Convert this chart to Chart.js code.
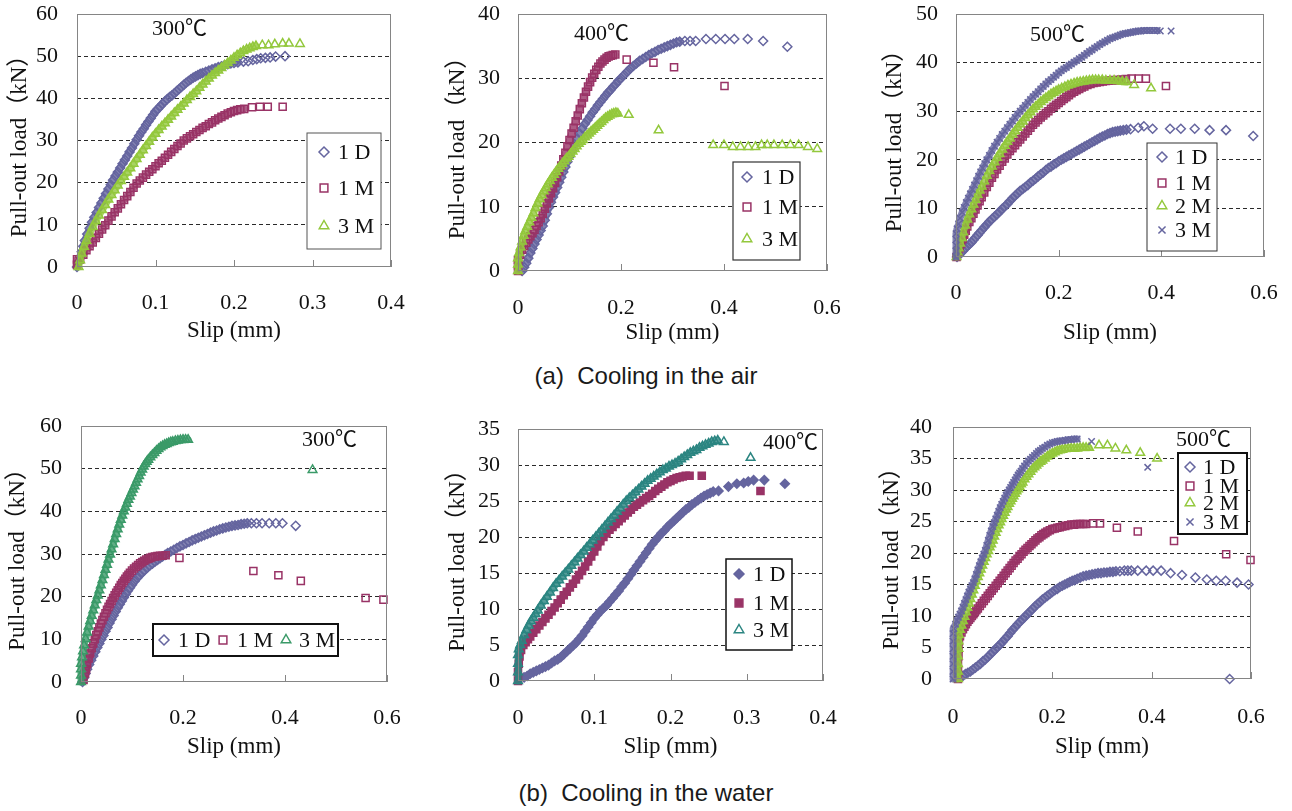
<!DOCTYPE html>
<html>
<head>
<meta charset="utf-8">
<script src="https://cdn.jsdelivr.net/npm/chart.js@4.4.0/dist/chart.umd.min.js"></script>
<style>
  body { margin: 0; background: #fff; width: 1292px; height: 811px; position: relative; overflow: hidden; }
  canvas { position: absolute; }
  .caption { position: absolute; left: 0; width: 1292px; text-align: center; white-space: pre;
    font: 24px 'Liberation Sans', Arial, sans-serif; line-height: 28px; color: #1a1a1a; }
</style>
</head>
<body>
<canvas id="a300" width="430" height="350" style="left:0;top:0"></canvas>
<canvas id="a400" width="430" height="350" style="left:430px;top:0"></canvas>
<canvas id="a500" width="432" height="350" style="left:860px;top:0"></canvas>
<canvas id="b300" width="430" height="365" style="left:0;top:405px"></canvas>
<canvas id="b400" width="430" height="365" style="left:430px;top:405px"></canvas>
<canvas id="b500" width="432" height="365" style="left:860px;top:405px"></canvas>
<div class="caption" style="top:362px">(a)  Cooling in the air</div>
<div class="caption" style="top:779px">(b)  Cooling in the water</div>
<script>
// data: [slip (mm), pull-out load (kN)]

// (a) cooling in the air, 300
const air300_1D = [[0,0],[0.002,1.2],[0.004,2.4],[0.006,3.6],[0.008,4.9],[0.010,6.3],[0.013,7.8],[0.016,9.2],[0.019,10.6],[0.022,11.8],[0.025,12.9],[0.028,14.1],[0.031,15.2],[0.034,16.3],[0.037,17.4],[0.040,18.5],[0.043,19.5],[0.046,20.6],[0.049,21.6],[0.052,22.5],[0.055,23.5],[0.058,24.5],[0.061,25.4],[0.064,26.3],[0.067,27.3],[0.070,28.2],[0.073,29.2],[0.076,30.2],[0.079,31.1],[0.082,32.0],[0.085,32.8],[0.088,33.7],[0.091,34.5],[0.094,35.3],[0.097,36.1],[0.100,36.9],[0.103,37.5],[0.106,38.1],[0.109,38.7],[0.112,39.3],[0.115,39.8],[0.118,40.3],[0.121,40.7],[0.124,41.2],[0.127,41.7],[0.130,42.2],[0.133,42.7],[0.136,43.2],[0.139,43.7],[0.142,44.1],[0.145,44.5],[0.148,44.9],[0.151,45.2],[0.154,45.5],[0.157,45.8],[0.160,46.0],[0.164,46.3],[0.168,46.6],[0.172,46.9],[0.176,47.1],[0.180,47.4],[0.184,47.6],[0.188,47.9],[0.192,48.1],[0.196,48.3],[0.200,48.4],[0.205,48.5],[0.212,48.7],[0.218,48.8],[0.224,49.1],[0.229,49.3],[0.234,49.5],[0.240,49.6],[0.246,49.7],[0.253,49.9],[0.265,50.0]]
const air300_1M = [[0,0.5],[0,1.8],[0.004,1.8],[0.008,2.9],[0.012,4.0],[0.016,4.9],[0.020,5.8],[0.024,6.9],[0.028,7.9],[0.032,8.9],[0.036,9.9],[0.040,11.0],[0.044,12.0],[0.048,13.0],[0.052,13.9],[0.056,14.9],[0.060,15.9],[0.064,16.8],[0.068,17.8],[0.072,18.8],[0.076,19.8],[0.080,20.5],[0.084,21.2],[0.088,21.9],[0.092,22.6],[0.096,23.2],[0.100,23.9],[0.104,24.6],[0.108,25.2],[0.112,25.9],[0.116,26.6],[0.120,27.3],[0.124,28.0],[0.128,28.7],[0.132,29.3],[0.136,30.0],[0.140,30.5],[0.144,31.0],[0.148,31.5],[0.152,32.0],[0.156,32.5],[0.160,33.0],[0.164,33.4],[0.168,33.9],[0.172,34.3],[0.176,34.8],[0.180,35.2],[0.184,35.6],[0.188,36.0],[0.192,36.4],[0.196,36.7],[0.200,37.0],[0.204,37.2],[0.208,37.4],[0.213,37.5],[0.223,37.9],[0.233,38.0],[0.243,38.0],[0.262,38.0]]
const air300_3M = [[0.002,0],[0.004,1.6],[0.006,3.2],[0.009,4.8],[0.012,6.2],[0.016,7.9],[0.020,9.5],[0.024,10.9],[0.028,12.2],[0.032,13.5],[0.036,14.7],[0.040,16.0],[0.044,17.1],[0.048,18.2],[0.052,19.3],[0.056,20.4],[0.060,21.4],[0.064,22.4],[0.068,23.4],[0.072,24.5],[0.076,25.6],[0.080,26.6],[0.084,27.7],[0.088,28.7],[0.092,29.7],[0.096,30.7],[0.100,31.6],[0.104,32.5],[0.108,33.3],[0.112,34.1],[0.116,34.9],[0.120,35.7],[0.124,36.5],[0.128,37.3],[0.132,38.0],[0.136,38.8],[0.140,39.6],[0.144,40.3],[0.148,41.0],[0.152,41.7],[0.156,42.5],[0.160,43.3],[0.164,44.0],[0.168,44.7],[0.172,45.4],[0.176,46.0],[0.180,46.6],[0.184,47.2],[0.188,47.8],[0.192,48.4],[0.196,49.0],[0.200,49.6],[0.204,50.2],[0.208,50.7],[0.212,51.2],[0.216,51.6],[0.220,51.9],[0.224,52.2],[0.228,52.4],[0.236,52.6],[0.244,52.6],[0.252,52.8],[0.262,53.0],[0.270,53.0],[0.284,52.9]]

// (a) cooling in the air, 400
const air400_1D = [[0.008,0],[0.012,0.6],[0.016,1.2],[0.020,2.0],[0.024,2.8],[0.028,3.5],[0.032,4.2],[0.036,4.9],[0.040,5.6],[0.044,6.3],[0.048,7.0],[0.052,7.9],[0.056,8.9],[0.060,9.9],[0.064,10.7],[0.068,11.5],[0.072,12.2],[0.076,13.0],[0.080,13.8],[0.084,14.6],[0.088,15.4],[0.092,16.2],[0.096,17.0],[0.100,17.8],[0.105,18.7],[0.110,19.7],[0.115,20.6],[0.120,21.4],[0.125,22.2],[0.130,22.9],[0.135,23.5],[0.140,24.1],[0.145,24.7],[0.150,25.2],[0.155,25.8],[0.160,26.3],[0.165,26.8],[0.170,27.3],[0.175,27.8],[0.180,28.2],[0.185,28.7],[0.190,29.1],[0.195,29.6],[0.200,30.0],[0.206,30.5],[0.212,31.0],[0.218,31.5],[0.224,31.9],[0.230,32.3],[0.236,32.7],[0.242,33.0],[0.248,33.3],[0.254,33.6],[0.260,33.9],[0.266,34.1],[0.272,34.4],[0.278,34.6],[0.284,34.8],[0.290,35.0],[0.296,35.2],[0.302,35.4],[0.308,35.6],[0.314,35.7],[0.324,35.8],[0.334,35.8],[0.345,35.8],[0.365,36.1],[0.384,36.1],[0.402,36.1],[0.420,36.1],[0.446,36.1],[0.476,35.8],[0.523,34.9]]
const air400_1M = [[0,0],[0,0.9],[0,1.7],[0.004,2.5],[0.008,3.3],[0.012,3.9],[0.016,4.4],[0.020,4.9],[0.024,5.4],[0.028,5.9],[0.032,6.4],[0.036,7.0],[0.040,7.6],[0.044,8.2],[0.048,8.9],[0.052,9.7],[0.056,10.5],[0.060,11.3],[0.064,12.1],[0.068,12.9],[0.072,13.7],[0.076,14.6],[0.080,15.5],[0.084,16.4],[0.088,17.4],[0.092,18.4],[0.096,19.4],[0.100,20.4],[0.104,21.4],[0.108,22.3],[0.112,23.3],[0.116,24.2],[0.120,25.2],[0.124,26.1],[0.128,27.0],[0.132,27.9],[0.136,28.7],[0.140,29.4],[0.144,30.1],[0.148,30.7],[0.152,31.3],[0.156,31.8],[0.160,32.3],[0.164,32.6],[0.168,32.9],[0.172,33.2],[0.176,33.4],[0.180,33.5],[0.184,33.6],[0.189,33.7],[0.211,32.9],[0.263,32.4],[0.303,31.7],[0.401,28.8]]
const air400_3M = [[0,0],[0,1.0],[0,2.0],[0.002,2.8],[0.005,3.7],[0.008,4.6],[0.011,5.5],[0.014,6.2],[0.018,6.9],[0.022,7.6],[0.026,8.3],[0.030,9.0],[0.034,9.8],[0.038,10.5],[0.042,11.2],[0.046,11.8],[0.050,12.4],[0.054,12.9],[0.058,13.5],[0.062,14.0],[0.066,14.5],[0.070,15.0],[0.074,15.4],[0.078,15.9],[0.082,16.3],[0.086,16.7],[0.090,17.1],[0.094,17.5],[0.098,17.8],[0.102,18.2],[0.106,18.6],[0.110,19.0],[0.114,19.4],[0.118,19.8],[0.122,20.1],[0.126,20.4],[0.130,20.8],[0.134,21.1],[0.138,21.4],[0.142,21.7],[0.146,22.0],[0.150,22.3],[0.154,22.6],[0.158,22.9],[0.162,23.2],[0.166,23.5],[0.170,23.8],[0.174,24.0],[0.178,24.2],[0.182,24.4],[0.186,24.5],[0.190,24.6],[0.194,24.5],[0.215,24.3],[0.273,21.9],[0.379,19.6],[0.400,19.6],[0.417,19.3],[0.432,19.3],[0.447,19.3],[0.461,19.3],[0.473,19.6],[0.484,19.6],[0.497,19.6],[0.513,19.6],[0.529,19.6],[0.545,19.6],[0.563,19.3],[0.581,19.0]]

// (a) cooling in the air, 500
const air500_1D = [[0.002,0],[0.006,0.4],[0.010,0.9],[0.014,1.3],[0.018,1.8],[0.022,2.2],[0.026,2.6],[0.030,3.0],[0.034,3.5],[0.038,4.0],[0.042,4.5],[0.046,5.0],[0.050,5.5],[0.055,6.1],[0.060,6.7],[0.065,7.3],[0.070,7.8],[0.075,8.3],[0.080,8.8],[0.085,9.3],[0.090,9.9],[0.095,10.4],[0.100,10.9],[0.105,11.5],[0.110,12.1],[0.115,12.6],[0.120,13.1],[0.125,13.6],[0.130,14.0],[0.135,14.4],[0.140,14.8],[0.145,15.3],[0.150,15.7],[0.155,16.1],[0.160,16.6],[0.165,17.0],[0.170,17.4],[0.175,17.9],[0.180,18.3],[0.185,18.6],[0.190,19.0],[0.195,19.3],[0.200,19.7],[0.205,20.0],[0.210,20.3],[0.215,20.6],[0.220,20.9],[0.225,21.2],[0.230,21.5],[0.235,21.8],[0.240,22.1],[0.245,22.4],[0.250,22.7],[0.255,23.0],[0.260,23.3],[0.265,23.6],[0.270,23.9],[0.275,24.2],[0.280,24.5],[0.285,24.8],[0.290,25.0],[0.295,25.3],[0.300,25.5],[0.305,25.7],[0.310,25.8],[0.315,25.9],[0.320,26.0],[0.326,26.1],[0.332,26.2],[0.340,26.3],[0.355,26.6],[0.366,26.9],[0.383,26.4],[0.417,26.4],[0.438,26.4],[0.465,26.4],[0.494,26.1],[0.526,26.1],[0.579,24.9]]
const air500_1M = [[0.001,0],[0.004,0.9],[0.007,1.8],[0.010,2.8],[0.013,3.7],[0.016,4.6],[0.019,5.4],[0.022,6.3],[0.026,7.2],[0.030,8.0],[0.034,8.9],[0.038,9.8],[0.042,10.6],[0.046,11.5],[0.050,12.3],[0.055,13.3],[0.060,14.4],[0.065,15.3],[0.070,16.3],[0.075,17.1],[0.080,18.0],[0.085,18.8],[0.090,19.6],[0.095,20.3],[0.100,21.1],[0.105,21.8],[0.110,22.4],[0.115,23.0],[0.120,23.6],[0.125,24.2],[0.130,24.8],[0.135,25.4],[0.140,26.0],[0.145,26.6],[0.150,27.2],[0.155,27.7],[0.160,28.2],[0.165,28.7],[0.170,29.1],[0.175,29.6],[0.180,30.0],[0.185,30.5],[0.190,30.9],[0.195,31.3],[0.200,31.7],[0.205,32.1],[0.210,32.5],[0.215,32.9],[0.220,33.3],[0.225,33.7],[0.230,34.0],[0.235,34.3],[0.240,34.6],[0.245,34.9],[0.250,35.1],[0.256,35.4],[0.262,35.6],[0.268,35.8],[0.274,35.9],[0.280,36.0],[0.286,36.1],[0.292,36.2],[0.298,36.3],[0.304,36.3],[0.310,36.4],[0.316,36.4],[0.322,36.5],[0.331,36.6],[0.342,36.7],[0.356,36.7],[0.370,36.7],[0.409,35.2]]
const air500_2M = [[0.001,0],[0.003,1.0],[0.005,1.8],[0.008,2.8],[0.011,3.9],[0.014,5.1],[0.018,6.5],[0.022,7.7],[0.026,8.8],[0.030,9.8],[0.034,10.8],[0.038,11.8],[0.042,12.8],[0.046,13.7],[0.050,14.5],[0.055,15.6],[0.060,16.7],[0.065,17.7],[0.070,18.6],[0.075,19.5],[0.080,20.4],[0.085,21.2],[0.090,22.1],[0.095,22.9],[0.100,23.7],[0.105,24.4],[0.110,25.2],[0.115,25.9],[0.120,26.6],[0.125,27.3],[0.130,27.9],[0.135,28.6],[0.140,29.2],[0.145,29.8],[0.150,30.4],[0.155,30.9],[0.160,31.4],[0.165,31.9],[0.170,32.3],[0.175,32.7],[0.180,33.1],[0.185,33.5],[0.190,33.8],[0.195,34.1],[0.200,34.4],[0.206,34.7],[0.212,35.0],[0.218,35.3],[0.224,35.5],[0.230,35.7],[0.236,35.9],[0.242,36.0],[0.248,36.1],[0.254,36.2],[0.260,36.3],[0.266,36.4],[0.272,36.4],[0.278,36.4],[0.285,36.4],[0.292,36.3],[0.300,36.3],[0.308,36.3],[0.316,36.2],[0.324,36.1],[0.332,36.0],[0.347,35.4],[0.380,34.7]]
const air500_3M = [[0,0],[0,1.2],[0,2.4],[0,3.6],[0,4.8],[0.002,5.8],[0.005,6.8],[0.008,8.0],[0.012,9.2],[0.016,10.2],[0.020,11.2],[0.024,12.1],[0.028,13.0],[0.032,13.9],[0.036,14.8],[0.040,15.7],[0.044,16.6],[0.048,17.5],[0.052,18.3],[0.056,19.2],[0.060,20.0],[0.065,20.9],[0.070,21.9],[0.075,22.8],[0.080,23.6],[0.085,24.4],[0.090,25.2],[0.095,25.9],[0.100,26.6],[0.105,27.3],[0.110,28.0],[0.115,28.7],[0.120,29.4],[0.125,30.0],[0.130,30.6],[0.135,31.2],[0.140,31.8],[0.145,32.4],[0.150,33.0],[0.155,33.5],[0.160,34.0],[0.165,34.6],[0.170,35.1],[0.175,35.6],[0.180,36.1],[0.185,36.5],[0.190,37.0],[0.195,37.4],[0.200,37.9],[0.205,38.3],[0.210,38.7],[0.215,39.0],[0.220,39.4],[0.225,39.7],[0.230,40.1],[0.235,40.4],[0.240,40.8],[0.245,41.1],[0.250,41.5],[0.255,41.9],[0.260,42.3],[0.265,42.6],[0.270,43.0],[0.275,43.3],[0.280,43.7],[0.285,44.0],[0.290,44.3],[0.295,44.6],[0.300,44.9],[0.305,45.1],[0.310,45.3],[0.315,45.5],[0.320,45.7],[0.325,45.9],[0.330,46.0],[0.335,46.1],[0.340,46.2],[0.345,46.3],[0.350,46.4],[0.355,46.5],[0.360,46.5],[0.366,46.6],[0.372,46.6],[0.378,46.6],[0.385,46.6],[0.392,46.6],[0.398,46.5],[0.419,46.5]]

// (b) cooling in the water, 300
const water300_1D = [[0.003,0],[0.006,1.0],[0.009,2.0],[0.012,3.0],[0.016,4.1],[0.020,5.1],[0.024,6.1],[0.028,7.1],[0.032,8.1],[0.036,9.0],[0.040,10.0],[0.044,10.9],[0.048,11.9],[0.052,12.8],[0.056,13.8],[0.060,14.7],[0.064,15.6],[0.068,16.5],[0.072,17.4],[0.076,18.2],[0.080,19.0],[0.084,19.8],[0.088,20.6],[0.092,21.4],[0.096,22.1],[0.100,22.8],[0.105,23.6],[0.110,24.4],[0.115,25.0],[0.120,25.7],[0.125,26.2],[0.130,26.8],[0.135,27.3],[0.140,27.7],[0.145,28.2],[0.150,28.6],[0.155,29.0],[0.160,29.4],[0.165,29.8],[0.170,30.2],[0.176,30.6],[0.182,31.0],[0.188,31.4],[0.194,31.8],[0.200,32.1],[0.206,32.5],[0.212,32.8],[0.218,33.2],[0.224,33.5],[0.230,33.8],[0.236,34.1],[0.242,34.4],[0.248,34.7],[0.254,35.0],[0.260,35.3],[0.266,35.5],[0.272,35.8],[0.278,36.0],[0.284,36.2],[0.290,36.4],[0.296,36.6],[0.302,36.7],[0.308,36.8],[0.314,37.0],[0.320,37.1],[0.326,37.2],[0.334,37.2],[0.344,37.2],[0.355,37.2],[0.369,37.2],[0.382,37.2],[0.395,37.2],[0.421,36.6]]
const water300_1M = [[0.005,0.5],[0.008,2.0],[0.010,3.0],[0.012,4.2],[0.015,5.5],[0.018,6.7],[0.021,7.9],[0.024,9.0],[0.027,10.0],[0.030,11.0],[0.033,11.9],[0.036,12.8],[0.039,13.7],[0.042,14.5],[0.045,15.3],[0.048,16.1],[0.051,16.9],[0.054,17.6],[0.057,18.3],[0.060,19.0],[0.063,19.7],[0.066,20.3],[0.069,20.9],[0.072,21.5],[0.075,22.1],[0.078,22.7],[0.081,23.2],[0.084,23.7],[0.087,24.2],[0.090,24.7],[0.093,25.1],[0.096,25.6],[0.100,26.1],[0.104,26.6],[0.108,27.0],[0.112,27.4],[0.116,27.8],[0.120,28.1],[0.124,28.4],[0.128,28.7],[0.132,28.9],[0.136,29.1],[0.140,29.3],[0.145,29.4],[0.150,29.5],[0.155,29.6],[0.160,29.6],[0.166,29.7],[0.193,29.1],[0.338,26.0],[0.387,25.0],[0.431,23.7],[0.558,19.7],[0.593,19.3]]
const water300_3M = [[0,0],[0,1.5],[0,3.0],[0,4.3],[0.002,5.8],[0.004,7.2],[0.006,8.6],[0.009,10.1],[0.012,11.6],[0.015,13.0],[0.018,14.3],[0.021,15.5],[0.024,16.8],[0.027,18.0],[0.030,19.2],[0.033,20.3],[0.036,21.5],[0.039,22.7],[0.042,23.9],[0.045,25.1],[0.048,26.3],[0.051,27.5],[0.054,28.7],[0.057,29.9],[0.060,31.1],[0.063,32.3],[0.066,33.5],[0.069,34.7],[0.072,35.8],[0.075,36.9],[0.078,38.0],[0.081,39.0],[0.084,40.0],[0.087,40.9],[0.090,41.8],[0.093,42.7],[0.096,43.5],[0.099,44.3],[0.102,45.1],[0.105,45.9],[0.108,46.7],[0.111,47.5],[0.114,48.3],[0.117,49.1],[0.120,49.8],[0.123,50.5],[0.126,51.1],[0.129,51.6],[0.132,52.1],[0.136,52.7],[0.140,53.2],[0.144,53.7],[0.148,54.2],[0.152,54.6],[0.156,55.0],[0.160,55.3],[0.164,55.6],[0.168,55.8],[0.172,56.0],[0.176,56.2],[0.180,56.3],[0.185,56.5],[0.190,56.6],[0.195,56.7],[0.200,56.8],[0.205,56.8],[0.210,56.8],[0.454,49.7]]

// (b) cooling in the water, 400
const water400_1D = [[0.008,0.5],[0.012,0.7],[0.016,1.0],[0.020,1.2],[0.024,1.4],[0.028,1.6],[0.032,1.8],[0.036,2.0],[0.040,2.2],[0.044,2.5],[0.048,2.8],[0.052,3.0],[0.056,3.3],[0.060,3.7],[0.064,4.1],[0.068,4.5],[0.072,4.9],[0.076,5.3],[0.080,5.8],[0.084,6.3],[0.088,6.9],[0.092,7.5],[0.096,8.1],[0.100,8.7],[0.104,9.2],[0.108,9.7],[0.112,10.1],[0.116,10.5],[0.120,11.0],[0.124,11.5],[0.128,12.0],[0.132,12.5],[0.136,13.1],[0.140,13.6],[0.144,14.2],[0.148,14.8],[0.152,15.4],[0.156,16.0],[0.160,16.6],[0.164,17.2],[0.168,17.8],[0.172,18.4],[0.176,19.0],[0.180,19.5],[0.184,20.0],[0.188,20.5],[0.192,20.9],[0.196,21.4],[0.200,21.8],[0.204,22.2],[0.208,22.6],[0.212,23.0],[0.216,23.4],[0.220,23.8],[0.224,24.1],[0.228,24.5],[0.232,24.8],[0.236,25.1],[0.240,25.4],[0.244,25.7],[0.248,25.9],[0.252,26.1],[0.256,26.3],[0.263,26.4],[0.276,27.0],[0.287,27.4],[0.296,27.5],[0.302,27.7],[0.309,27.9],[0.323,27.9],[0.350,27.4]]
const water400_1M = [[0,0],[0,1.2],[0.001,2.4],[0.002,3.4],[0.004,4.3],[0.007,5.0],[0.010,5.4],[0.013,5.8],[0.016,6.2],[0.020,6.7],[0.024,7.2],[0.028,7.7],[0.032,8.2],[0.036,8.7],[0.040,9.2],[0.044,9.7],[0.048,10.2],[0.052,10.8],[0.056,11.3],[0.060,11.9],[0.064,12.4],[0.068,13.0],[0.072,13.5],[0.076,14.1],[0.080,14.7],[0.084,15.3],[0.088,15.9],[0.092,16.6],[0.096,17.3],[0.100,18.0],[0.104,18.7],[0.108,19.4],[0.112,20.0],[0.116,20.5],[0.120,21.0],[0.124,21.4],[0.128,21.8],[0.132,22.2],[0.136,22.6],[0.140,23.0],[0.144,23.4],[0.148,23.8],[0.152,24.2],[0.156,24.5],[0.160,24.8],[0.164,25.1],[0.168,25.4],[0.172,25.7],[0.176,26.0],[0.180,26.4],[0.184,26.7],[0.188,27.0],[0.192,27.3],[0.196,27.6],[0.200,27.8],[0.204,28.0],[0.208,28.2],[0.212,28.3],[0.216,28.4],[0.220,28.5],[0.225,28.5],[0.241,28.5],[0.318,26.4]]
const water400_3M = [[0,0],[0,1.2],[0,2.4],[0,3.6],[0.001,4.4],[0.003,5.0],[0.005,5.6],[0.008,6.4],[0.011,7.1],[0.014,7.7],[0.017,8.3],[0.020,8.8],[0.023,9.3],[0.026,9.8],[0.030,10.5],[0.034,11.1],[0.038,11.7],[0.042,12.3],[0.046,12.9],[0.050,13.5],[0.054,14.0],[0.058,14.5],[0.062,15.0],[0.066,15.5],[0.070,16.0],[0.074,16.5],[0.078,17.0],[0.082,17.5],[0.086,18.0],[0.090,18.5],[0.094,19.0],[0.098,19.5],[0.102,20.0],[0.106,20.5],[0.110,21.0],[0.114,21.5],[0.118,22.0],[0.122,22.5],[0.126,23.0],[0.130,23.5],[0.134,24.0],[0.138,24.5],[0.142,25.0],[0.146,25.4],[0.150,25.8],[0.154,26.2],[0.158,26.6],[0.162,27.0],[0.166,27.4],[0.170,27.8],[0.174,28.1],[0.178,28.4],[0.182,28.7],[0.186,29.0],[0.190,29.3],[0.194,29.5],[0.198,29.8],[0.202,30.0],[0.206,30.2],[0.210,30.5],[0.214,30.8],[0.218,31.1],[0.222,31.4],[0.226,31.7],[0.230,31.9],[0.234,32.1],[0.238,32.4],[0.242,32.6],[0.246,32.8],[0.250,33.0],[0.254,33.2],[0.258,33.3],[0.262,33.4],[0.270,33.2],[0.305,31.0]]

// (b) cooling in the water, 500
const water500_1D = [[0.020,0.5],[0.025,0.8],[0.030,1.0],[0.035,1.2],[0.040,1.5],[0.045,1.8],[0.050,2.1],[0.055,2.4],[0.060,2.8],[0.065,3.1],[0.070,3.5],[0.075,3.9],[0.080,4.3],[0.085,4.7],[0.090,5.1],[0.095,5.5],[0.100,5.9],[0.105,6.4],[0.110,6.8],[0.115,7.3],[0.120,7.8],[0.125,8.2],[0.130,8.7],[0.135,9.1],[0.140,9.5],[0.145,9.9],[0.150,10.3],[0.155,10.7],[0.160,11.1],[0.165,11.5],[0.170,11.9],[0.175,12.2],[0.180,12.6],[0.185,12.9],[0.190,13.2],[0.195,13.5],[0.200,13.8],[0.205,14.1],[0.210,14.3],[0.215,14.6],[0.220,14.8],[0.225,15.0],[0.230,15.2],[0.235,15.4],[0.240,15.6],[0.245,15.7],[0.250,15.9],[0.256,16.1],[0.262,16.3],[0.268,16.4],[0.274,16.5],[0.280,16.6],[0.286,16.7],[0.292,16.8],[0.298,16.8],[0.304,16.9],[0.310,16.9],[0.316,17.0],[0.322,17.0],[0.328,17.1],[0.336,17.1],[0.345,17.2],[0.352,17.2],[0.359,17.2],[0.372,17.2],[0.389,17.2],[0.403,17.2],[0.419,17.2],[0.438,16.8],[0.461,16.5],[0.488,16.1],[0.511,15.8],[0.530,15.6],[0.549,15.6],[0.572,15.3],[0.595,15.0],[0.557,0]]
const water500_1M = [[0.010,0],[0.010,1.2],[0.010,2.4],[0.011,3.6],[0.011,4.8],[0.012,6.0],[0.014,6.8],[0.017,7.4],[0.020,7.9],[0.023,8.3],[0.026,8.7],[0.029,9.1],[0.032,9.4],[0.035,9.7],[0.038,10.0],[0.041,10.3],[0.044,10.6],[0.047,10.9],[0.050,11.2],[0.054,11.6],[0.058,12.0],[0.062,12.4],[0.066,12.8],[0.070,13.2],[0.074,13.6],[0.078,14.0],[0.082,14.4],[0.086,14.8],[0.090,15.2],[0.094,15.6],[0.098,16.0],[0.102,16.4],[0.106,16.8],[0.110,17.2],[0.114,17.6],[0.118,18.0],[0.122,18.4],[0.126,18.8],[0.130,19.1],[0.134,19.5],[0.138,19.8],[0.142,20.2],[0.146,20.5],[0.150,20.8],[0.154,21.1],[0.158,21.4],[0.162,21.7],[0.166,22.0],[0.170,22.3],[0.174,22.5],[0.178,22.8],[0.182,23.0],[0.186,23.2],[0.190,23.4],[0.195,23.6],[0.200,23.8],[0.205,23.9],[0.210,24.0],[0.215,24.1],[0.220,24.2],[0.226,24.3],[0.232,24.4],[0.238,24.5],[0.244,24.5],[0.250,24.6],[0.256,24.6],[0.262,24.6],[0.268,24.6],[0.282,24.7],[0.296,24.7],[0.330,24.0],[0.372,23.4],[0.445,21.9],[0.550,19.8],[0.599,18.9]]
const water500_2M = [[0.010,0],[0.010,1.2],[0.010,2.4],[0.010,3.6],[0.011,4.8],[0.011,6.0],[0.012,7.0],[0.014,7.8],[0.017,8.5],[0.020,9.2],[0.023,9.9],[0.026,10.6],[0.029,11.3],[0.032,12.0],[0.035,12.7],[0.038,13.4],[0.041,14.1],[0.044,14.8],[0.047,15.5],[0.050,16.2],[0.053,16.8],[0.056,17.4],[0.059,18.0],[0.062,18.6],[0.065,19.2],[0.068,19.8],[0.071,20.3],[0.074,20.9],[0.077,21.4],[0.080,22.0],[0.083,22.6],[0.086,23.2],[0.089,23.8],[0.092,24.4],[0.095,24.9],[0.098,25.4],[0.101,25.9],[0.104,26.4],[0.107,26.9],[0.110,27.3],[0.113,27.8],[0.116,28.2],[0.119,28.6],[0.122,29.0],[0.125,29.4],[0.128,29.8],[0.131,30.1],[0.134,30.5],[0.137,30.9],[0.140,31.2],[0.144,31.7],[0.148,32.1],[0.152,32.5],[0.156,32.9],[0.160,33.3],[0.164,33.6],[0.168,33.9],[0.172,34.2],[0.176,34.5],[0.180,34.7],[0.185,35.0],[0.190,35.3],[0.195,35.6],[0.200,35.8],[0.205,36.0],[0.210,36.2],[0.215,36.3],[0.220,36.4],[0.226,36.5],[0.232,36.6],[0.238,36.6],[0.244,36.6],[0.250,36.6],[0.256,36.7],[0.262,36.7],[0.268,36.7],[0.274,36.7],[0.294,37.1],[0.311,37.1],[0.327,36.6],[0.349,36.3],[0.377,35.9],[0.411,35.0]]
const water500_3M = [[0,0],[0,1.2],[0,2.4],[0,3.6],[0,4.8],[0,6.0],[0,7.2],[0.002,8.0],[0.005,8.7],[0.008,9.3],[0.011,9.8],[0.014,10.3],[0.017,10.8],[0.020,11.4],[0.023,12.0],[0.026,12.6],[0.029,13.2],[0.032,13.8],[0.035,14.3],[0.038,14.8],[0.041,15.3],[0.044,15.9],[0.047,16.6],[0.050,17.3],[0.053,18.0],[0.056,18.6],[0.059,19.2],[0.062,19.8],[0.065,20.4],[0.068,21.2],[0.071,22.0],[0.074,22.8],[0.077,23.5],[0.080,24.2],[0.083,24.8],[0.086,25.4],[0.089,26.0],[0.092,26.6],[0.095,27.2],[0.098,27.7],[0.101,28.2],[0.104,28.7],[0.107,29.2],[0.110,29.6],[0.113,30.0],[0.116,30.4],[0.119,30.8],[0.122,31.2],[0.125,31.6],[0.128,32.0],[0.131,32.4],[0.134,32.7],[0.137,33.0],[0.140,33.4],[0.144,33.8],[0.148,34.2],[0.152,34.6],[0.156,34.9],[0.160,35.2],[0.164,35.5],[0.168,35.8],[0.172,36.1],[0.176,36.3],[0.180,36.6],[0.185,36.8],[0.190,37.1],[0.195,37.3],[0.200,37.5],[0.205,37.6],[0.210,37.7],[0.215,37.8],[0.220,37.8],[0.226,37.9],[0.232,38.0],[0.238,38.0],[0.244,38.1],[0.250,38.1],[0.279,37.7],[0.392,33.6]]

const BLUE = '#65659f'
const MAROON = '#993366'
const LIME = '#93c83c'
const GREEN = '#3a9a68'
const TEAL = '#2b8581'

const SERIF = "'Liberation Serif', 'Times New Roman', 'Noto Sans CJK SC', serif"
const yTitle = 'Pull-out load（kN）'
const xTitle = 'Slip (mm)'

// one entry per sub-plot; area = chartArea offsets inside its canvas.
// series: [label, data, marker, colour, filled, slip where the dense band of readings ends]
const panels = [
  { id: 'a300', temp: '300℃', tempPos: [152, 29], xMax: 0.4, xStep: 0.1, yMax: 60, yStep: 10,
    area: { left: 77, top: 14, right: 39, bottom: 83 }, yPad: 19, xPad: 25, yTitleX: 20, xTitleY: 331,
    series: [['1 D', air300_1D, 'rectRot', BLUE, false, 0.206], ['1 M', air300_1M, 'rect', MAROON, false, 0.214], ['3 M', air300_3M, 'triangle', LIME, false, 0.23]],
    legend: { box: [307, 133, 74, 116], line: 1, color: '#555', items: [[324, 338, 152], [324, 338, 188], [324, 338, 226]] } },
  { id: 'a400', temp: '400℃', tempPos: [144, 34], xMax: 0.6, xStep: 0.2, yMax: 40, yStep: 10,
    area: { left: 88, top: 14, right: 33, bottom: 79 }, yPad: 18, xPad: 26, yTitleX: 28, xTitleY: 333,
    series: [['1 D', air400_1D, 'rectRot', BLUE, false, 0.316], ['1 M', air400_1M, 'rect', MAROON, false, 0.19], ['3 M', air400_3M, 'triangle', LIME, false, 0.195]],
    legend: { box: [303, 162, 67, 98], line: 1.2, color: '#333', items: [[317, 332, 177], [317, 332, 207], [317, 332, 239]] } },
  { id: 'a500', temp: '500℃', tempPos: [170, 35], xMax: 0.6, xStep: 0.2, yMax: 50, yStep: 10,
    area: { left: 96, top: 14, right: 28, bottom: 93 }, yPad: 18, xPad: 25, yTitleX: 35, xTitleY: 333,
    series: [['1 D', air500_1D, 'rectRot', BLUE, false, 0.333], ['1 M', air500_1M, 'rect', MAROON, false, 0.325], ['2 M', air500_2M, 'triangle', LIME, false, 0.333], ['3 M', air500_3M, 'crossRot', BLUE, false, 0.395]],
    legend: { box: [287, 143, 70, 108], line: 1, color: '#333', items: [[302, 315, 157], [302, 315, 183], [302, 315, 206], [302, 315, 230]] } },
  { id: 'b300', temp: '300℃', tempPos: [302, 35], xMax: 0.6, xStep: 0.2, yMax: 60, yStep: 10,
    area: { left: 81, top: 21, right: 43, bottom: 88 }, yPad: 19, xPad: 25, yTitleX: 18, xTitleY: 342,
    series: [['1 D', water300_1D, 'rectRot', BLUE, false, 0.327], ['1 M', water300_1M, 'rect', MAROON, false, 0.167], ['3 M', water300_3M, 'triangle', GREEN, false, 0.211]],
    legend: { box: [153, 219, 185, 32], line: 2, color: '#111', items: [[164, 178, 235], [223, 237, 235], [286, 299, 235]] } },
  { id: 'b400', temp: '400℃', tempPos: [333, 38], xMax: 0.4, xStep: 0.1, yMax: 35, yStep: 5,
    area: { left: 88, top: 24, right: 37, bottom: 89 }, yPad: 18, xPad: 26, yTitleX: 28, xTitleY: 342,
    series: [['1 D', water400_1D, 'rectRot', BLUE, true, 0.257], ['1 M', water400_1M, 'rect', MAROON, true, 0.226], ['3 M', water400_3M, 'triangle', TEAL, false, 0.263]],
    legend: { box: [296, 154, 66, 91], line: 1.5, color: '#111', items: [[309, 323, 169], [309, 323, 198], [309, 323, 225]] } },
  { id: 'b500', temp: '500℃', tempPos: [316, 35], xMax: 0.6, xStep: 0.2, yMax: 40, yStep: 5,
    area: { left: 93, top: 22, right: 41, bottom: 91 }, yPad: 21, xPad: 27, yTitleX: 32, xTitleY: 342,
    series: [['1 D', water500_1D, 'rectRot', BLUE, false, 0.329], ['1 M', water500_1M, 'rect', MAROON, false, 0.269], ['2 M', water500_2M, 'triangle', LIME, false, 0.275], ['3 M', water500_3M, 'crossRot', BLUE, false, 0.251]],
    legend: { box: [318, 48, 69, 81], line: 2, color: '#111', items: [[330, 343, 62], [330, 343, 81], [330, 343, 98], [330, 343, 117]] } },
]

const radiusFor = { rectRot: 4.5, rect: 5, triangle: 5, crossRot: 4.5 }

function fade(hex, a) {
  const n = parseInt(hex.slice(1), 16)
  return `rgba(${n >> 16}, ${(n >> 8) & 255}, ${n & 255}, ${a})`
}

function drawMarker(ctx, style, x, y, r, color, filled) {
  ctx.beginPath()
  if (style === 'rectRot') {
    ctx.moveTo(x, y - r); ctx.lineTo(x + r, y); ctx.lineTo(x, y + r); ctx.lineTo(x - r, y); ctx.closePath()
  } else if (style === 'rect') {
    const s = r * Math.SQRT1_2
    ctx.rect(x - s, y - s, 2 * s, 2 * s)
  } else if (style === 'triangle') {
    ctx.moveTo(x, y - r); ctx.lineTo(x + r * 0.866, y + r * 0.5); ctx.lineTo(x - r * 0.866, y + r * 0.5); ctx.closePath()
  } else {
    const s = r * Math.SQRT1_2
    ctx.moveTo(x - s, y - s); ctx.lineTo(x + s, y + s); ctx.moveTo(x + s, y - s); ctx.lineTo(x - s, y + s)
  }
  ctx.strokeStyle = color
  ctx.lineWidth = 1.5
  if (filled && style !== 'crossRot') { ctx.fillStyle = color; ctx.fill() }
  ctx.stroke()
}

// frame, inner x tick marks, legend box and temperature label
const panelDecor = {
  id: 'panelDecor',
  afterDraw(chart, args, opts) {
    const { ctx, chartArea: a } = chart
    const xs = chart.scales.x
    ctx.save()
    ctx.strokeStyle = '#858585'
    ctx.lineWidth = 1
    xs.ticks.forEach((t) => {
      const px = Math.round(xs.getPixelForValue(t.value)) + 0.5
      ctx.beginPath(); ctx.moveTo(px, a.bottom); ctx.lineTo(px, a.bottom - 7); ctx.stroke()
    })
    ctx.strokeRect(a.left + 0.5, a.top + 0.5, a.right - a.left - 1, a.bottom - a.top - 1)

    const lg = opts.legend
    const [bx, by, bw, bh] = lg.box
    ctx.fillStyle = '#fff'
    ctx.fillRect(bx, by, bw, bh)
    ctx.strokeStyle = lg.color
    ctx.lineWidth = lg.line
    ctx.strokeRect(bx, by, bw, bh)
    ctx.font = '22px ' + SERIF
    ctx.textBaseline = 'middle'
    ctx.textAlign = 'left'
    opts.series.forEach((s, i) => {
      const [mx, tx, ty] = lg.items[i]
      drawMarker(ctx, s[2], mx, ty, radiusFor[s[2]] + 0.5, s[3], s[4])
      ctx.fillStyle = '#111'
      ctx.fillText(s[0], tx, ty + 1)
    })

    ctx.fillStyle = '#111'
    ctx.fillText(opts.temp, opts.tempPos[0], opts.tempPos[1])
    ctx.restore()
  },
}

panels.forEach((p) => {
  const canvas = document.getElementById(p.id)
  const H = canvas.height
  const n = p.series.length
  const datasets = p.series.map((s, i) => ({
    label: s[0],
    data: s[1].map((pt) => ({ x: pt[0], y: pt[1] })),
    showLine: true,
    borderWidth: 7,
    borderCapStyle: 'round',
    borderJoinStyle: 'round',
    // the densely logged part reads as a solid band; isolated readings after it stay single marks
    segment: {
      borderColor: (c) => (s[1][c.p1DataIndex][0] >= s[5] ? 'rgba(0,0,0,0)' : fade(s[3], 0.8)),
    },
    pointStyle: s[2],
    pointRadius: radiusFor[s[2]],
    pointHoverRadius: radiusFor[s[2]],
    pointBorderWidth: 1.5,
    pointBorderColor: s[3],
    pointBackgroundColor: s[4] ? s[3] : 'rgba(0,0,0,0)',
    order: n - i, // later series drawn on top, as in the source
    clip: false,
  }))

  new Chart(canvas, {
    type: 'scatter',
    data: { datasets },
    options: {
      responsive: false,
      animation: false,
      events: [],
      layout: { padding: { top: p.area.top, right: p.area.right, left: 0, bottom: 0 } },
      plugins: {
        legend: { display: false },
        tooltip: { enabled: false },
        panelDecor: { temp: p.temp, tempPos: p.tempPos, legend: p.legend, series: p.series },
      },
      scales: {
        x: {
          type: 'linear', min: 0, max: p.xMax,
          ticks: { stepSize: p.xStep, padding: p.xPad, color: '#111', maxRotation: 0,
            font: { family: SERIF, size: 22, lineHeight: 1 } },
          grid: { display: false, drawTicks: false },
          border: { display: false },
          title: { display: true, text: xTitle, color: '#111',
            font: { family: SERIF, size: 23, lineHeight: 1 },
            padding: { top: 0, bottom: H - p.xTitleY - 11.5 } },
          afterFit(scale) {
            scale.height = p.area.bottom
            scale.paddingLeft = 0; scale.paddingRight = 0
          },
        },
        y: {
          type: 'linear', min: 0, max: p.yMax,
          ticks: { stepSize: p.yStep, padding: p.yPad, color: '#111',
            font: { family: SERIF, size: 22, lineHeight: 1 } },
          grid: {
            drawTicks: false, lineWidth: 1,
            color: (c) => (c.tick && (c.tick.value === 0 || c.tick.value === p.yMax) ? 'rgba(0,0,0,0)' : '#2a2a2a'),
          },
          border: { display: false, dash: [4, 3] },
          title: { display: true, text: yTitle, color: '#111',
            font: { family: SERIF, size: 23, lineHeight: 1 },
            padding: { top: p.yTitleX - 11.5, bottom: 0 } },
          afterFit(scale) {
            scale.width = p.area.left
            scale.paddingTop = 0; scale.paddingBottom = 0
          },
        },
      },
    },
    plugins: [panelDecor],
  })
})
</script>
</body>
</html>
